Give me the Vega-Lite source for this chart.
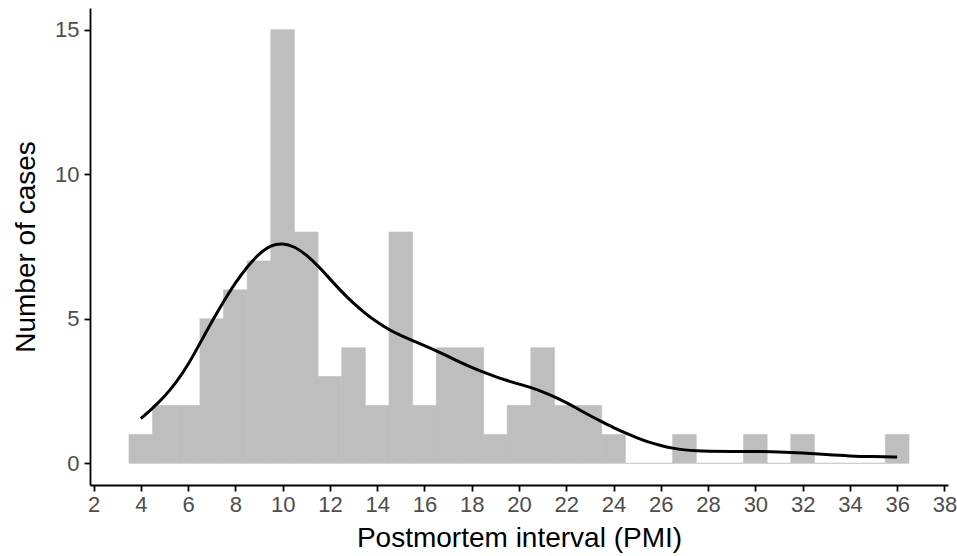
{
  "$schema": "https://vega.github.io/schema/vega-lite/v6.json",
  "autosize": "none",
  "width": 858,
  "height": 477,
  "padding": {"left": 90, "top": 8, "right": 9, "bottom": 71},
  "background": "white",
  "config": {
    "view": {"stroke": null},
    "font": "Liberation Sans",
    "axis": {
      "grid": false,
      "domainColor": "black",
      "domainWidth": 1.8,
      "tickColor": "black",
      "tickWidth": 1.8,
      "tickSize": 6,
      "labelColor": "#4D4D4D",
      "labelFont": "Liberation Sans",
      "labelFontSize": 22,
      "titleFont": "Liberation Sans",
      "titleFontSize": 28,
      "titleFontWeight": "normal",
      "titleColor": "black"
    }
  },
  "datasets": {
    "bins": [
      {"start": 3.5, "end": 4.5, "count": 1},
      {"start": 4.5, "end": 5.5, "count": 2},
      {"start": 5.5, "end": 6.5, "count": 2},
      {"start": 6.5, "end": 7.5, "count": 5},
      {"start": 7.5, "end": 8.5, "count": 6},
      {"start": 8.5, "end": 9.5, "count": 7},
      {"start": 9.5, "end": 10.5, "count": 15},
      {"start": 10.5, "end": 11.5, "count": 8},
      {"start": 11.5, "end": 12.5, "count": 3},
      {"start": 12.5, "end": 13.5, "count": 4},
      {"start": 13.5, "end": 14.5, "count": 2},
      {"start": 14.5, "end": 15.5, "count": 8},
      {"start": 15.5, "end": 16.5, "count": 2},
      {"start": 16.5, "end": 17.5, "count": 4},
      {"start": 17.5, "end": 18.5, "count": 4},
      {"start": 18.5, "end": 19.5, "count": 1},
      {"start": 19.5, "end": 20.5, "count": 2},
      {"start": 20.5, "end": 21.5, "count": 4},
      {"start": 21.5, "end": 22.5, "count": 2},
      {"start": 22.5, "end": 23.5, "count": 2},
      {"start": 23.5, "end": 24.5, "count": 1},
      {"start": 24.5, "end": 25.5, "count": 0},
      {"start": 25.5, "end": 26.5, "count": 0},
      {"start": 26.5, "end": 27.5, "count": 1},
      {"start": 27.5, "end": 28.5, "count": 0},
      {"start": 28.5, "end": 29.5, "count": 0},
      {"start": 29.5, "end": 30.5, "count": 1},
      {"start": 30.5, "end": 31.5, "count": 0},
      {"start": 31.5, "end": 32.5, "count": 1},
      {"start": 32.5, "end": 33.5, "count": 0},
      {"start": 33.5, "end": 34.5, "count": 0},
      {"start": 34.5, "end": 35.5, "count": 0},
      {"start": 35.5, "end": 36.5, "count": 1}
    ],
    "density": [
      {"pmi": 4.0, "y": 1.55},
      {"pmi": 4.5, "y": 1.9},
      {"pmi": 5.0, "y": 2.3},
      {"pmi": 5.5, "y": 2.8},
      {"pmi": 6.0, "y": 3.4},
      {"pmi": 6.5, "y": 4.15},
      {"pmi": 7.0, "y": 4.9},
      {"pmi": 7.5, "y": 5.6},
      {"pmi": 8.0, "y": 6.25},
      {"pmi": 8.5, "y": 6.8},
      {"pmi": 9.0, "y": 7.25},
      {"pmi": 9.5, "y": 7.55},
      {"pmi": 10.0, "y": 7.62},
      {"pmi": 10.5, "y": 7.5},
      {"pmi": 11.0, "y": 7.22},
      {"pmi": 11.5, "y": 6.83},
      {"pmi": 12.0, "y": 6.38},
      {"pmi": 12.5, "y": 5.93},
      {"pmi": 13.0, "y": 5.53},
      {"pmi": 13.5, "y": 5.18},
      {"pmi": 14.0, "y": 4.88},
      {"pmi": 14.5, "y": 4.62},
      {"pmi": 15.0, "y": 4.42},
      {"pmi": 15.5, "y": 4.24},
      {"pmi": 16.0, "y": 4.07},
      {"pmi": 16.5, "y": 3.89},
      {"pmi": 17.0, "y": 3.7},
      {"pmi": 17.5, "y": 3.5},
      {"pmi": 18.0, "y": 3.32},
      {"pmi": 18.5, "y": 3.15},
      {"pmi": 19.0, "y": 3.0},
      {"pmi": 19.5, "y": 2.86},
      {"pmi": 20.0, "y": 2.74},
      {"pmi": 20.5, "y": 2.62},
      {"pmi": 21.0, "y": 2.48},
      {"pmi": 21.5, "y": 2.3},
      {"pmi": 22.0, "y": 2.1},
      {"pmi": 22.5, "y": 1.88},
      {"pmi": 23.0, "y": 1.65},
      {"pmi": 23.5, "y": 1.44},
      {"pmi": 24.0, "y": 1.23},
      {"pmi": 24.5, "y": 1.05},
      {"pmi": 25.0, "y": 0.88},
      {"pmi": 25.5, "y": 0.73},
      {"pmi": 26.0, "y": 0.61},
      {"pmi": 26.5, "y": 0.52},
      {"pmi": 27.0, "y": 0.46},
      {"pmi": 27.5, "y": 0.43},
      {"pmi": 28.0, "y": 0.42},
      {"pmi": 29.0, "y": 0.41},
      {"pmi": 30.0, "y": 0.41},
      {"pmi": 31.0, "y": 0.4},
      {"pmi": 32.0, "y": 0.36},
      {"pmi": 33.0, "y": 0.3},
      {"pmi": 34.0, "y": 0.25},
      {"pmi": 35.0, "y": 0.23},
      {"pmi": 36.0, "y": 0.22}
    ]
  },
  "layer": [
    {
      "data": {"name": "bins"},
      "mark": {"type": "rect", "fill": "#BEBEBE", "stroke": "#BEBEBE", "strokeWidth": 0.6},
      "encoding": {
        "x": {
          "field": "start", "type": "quantitative",
          "scale": {"domain": [1.85, 38.15], "nice": false, "zero": false},
          "axis": {"values": [2,4,6,8,10,12,14,16,18,20,22,24,26,28,30,32,34,36,38], "title": "Postmortem interval (PMI)", "labelPadding": 3, "titlePadding": 9}
        },
        "x2": {"field": "end"},
        "y": {
          "field": "count", "type": "quantitative",
          "scale": {"domain": [-0.75, 15.75], "nice": false, "zero": false},
          "axis": {"values": [0, 5, 10, 15], "title": "Number of cases", "labelPadding": 5, "titlePadding": 14}
        },
        "y2": {"datum": 0}
      }
    },
    {
      "data": {"name": "density"},
      "mark": {"type": "line", "color": "black", "strokeWidth": 3, "interpolate": "basis"},
      "encoding": {
        "x": {"field": "pmi", "type": "quantitative"},
        "y": {"field": "y", "type": "quantitative"}
      }
    }
  ]
}
